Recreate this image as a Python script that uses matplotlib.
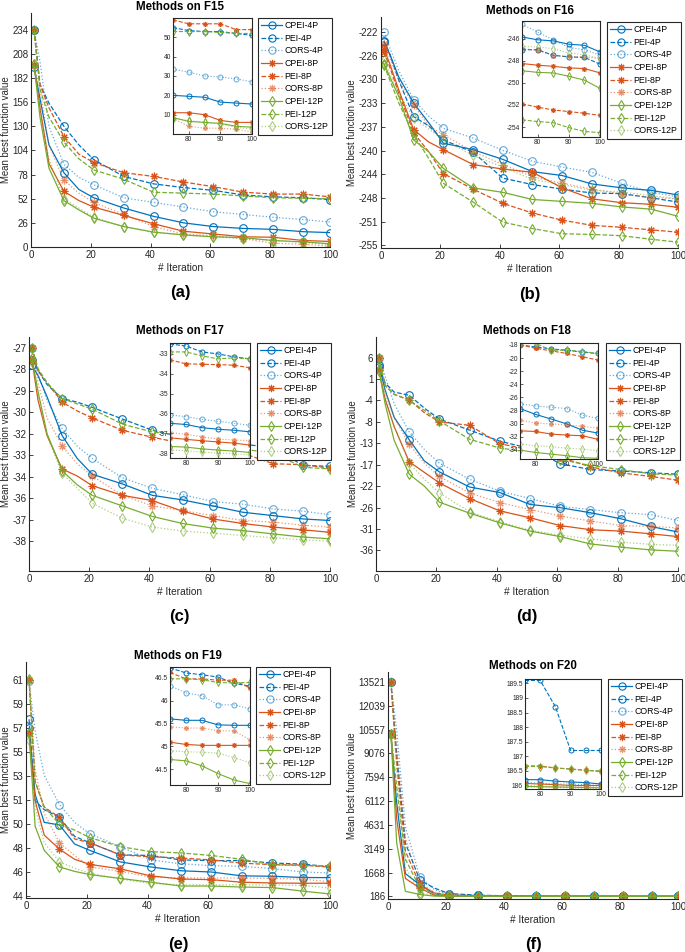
import matplotlib
matplotlib.use("Agg")
from matplotlib import pyplot as plt
from matplotlib.lines import Line2D
import numpy as np

plt.rcParams['font.family'] = ['Liberation Sans', 'DejaVu Sans']

# iterations (markers every 10 iterations)
iters = [1, 3, 6, 11, 16, 21, 31, 41, 51, 61, 71, 81, 91, 100]
zoom_iters = [75, 80, 85, 90, 95, 100]
labels = ['CPEI-4P', 'PEI-4P', 'CORS-4P', 'CPEI-8P', 'PEI-8P', 'CORS-8P',
          'CPEI-12P', 'PEI-12P', 'CORS-12P']

# ---- F15 ----
f15 = [
    [194, 160, 110, 80, 62, 53, 42, 33, 26, 22, 20, 19, 16.5, 15.5],
    [234, 175, 155, 130, 110, 94, 76, 68, 64, 61, 56, 54, 53, 51],
    [234, 200, 130, 89, 75, 67, 53, 48, 43, 38, 35, 32, 29.5, 27],
    [196, 150, 90, 60, 50, 43, 34, 25, 17, 14, 11, 10.5, 7, 6],
    [234, 175, 150, 119, 100, 91, 80, 76, 70, 65, 59, 57, 57, 54],
    [196, 170, 110, 72, 58, 48, 35, 22, 14, 12, 9, 4, 3, 1],
    [197, 140, 85, 50, 40, 31, 22, 16, 13, 11, 10, 7, 5.5, 3.5],
    [234, 170, 140, 113, 95, 83, 73, 59, 58, 57, 55, 53, 52.5, 52],
    [197, 150, 95, 52, 42, 32, 22, 16, 13, 11, 9, 7, 5, 2.5],
]
f15_zoom = [
    [20, 19.5, 19, 16.5, 16, 15.5],
    [55, 53.5, 53, 53, 52, 51],
    [33.5, 32, 30, 29.5, 28.5, 27],
    [11, 11, 10, 7, 6, 6],
    [59, 57, 57, 57, 54, 54],
    [8, 4, 3, 3, 2.5, 1],
    [8.5, 6.5, 6, 5.5, 4, 3.5],
    [53, 53, 53, 52.5, 52, 52],
    [8, 7, 6, 5, 3.5, 2.5],
]
f15_yticks = ['234', '208', '182', '156', '130', '104', '78', '52', '26', '0']

# ---- F16 ----
f16 = [
    [-223.5, -225.5, -229, -233, -236, -239.2, -240.2, -241.7, -243.6, -244.2, -245.5, -246.1, -246.5, -247.2],
    [-223.4, -225.5, -229.5, -235.1, -236.5, -238.7, -240.6, -244.6, -245.6, -246.3, -246.9, -247.0, -247.65, -248.3],
    [-222, -224.5, -228, -232.5, -235, -236.9, -238.4, -240.3, -242.0, -242.9, -243.7, -245.4, -246.8, -247.5],
    [-224.6, -227, -231, -237.1, -239, -240.2, -242.5, -243.2, -243.7, -246.1, -247.8, -248.4, -248.65, -249.1],
    [-225.1, -227.5, -231.5, -237.6, -240.5, -243.9, -246.3, -248.5, -250.0, -251.1, -251.9, -252.2, -252.6, -252.95],
    [-223.8, -226, -229.5, -233.3, -236.5, -237.9, -240.5, -242.5, -244.4, -245.4, -246.3, -247.05, -247.6, -247.8],
    [-226.9, -229, -232, -238.7, -240.5, -243.1, -246.1, -246.8, -247.9, -248.2, -248.5, -249.05, -249.4, -250.5],
    [-227.1, -229.5, -233, -237.9, -241.5, -245.4, -248.3, -251.4, -252.4, -253.2, -253.3, -253.5, -254.05, -254.5],
    [-226.4, -228.5, -231.5, -235.3, -237, -238.7, -241.1, -242.9, -244.8, -245.6, -246.5, -246.75, -247.3, -247.8],
]
f16_zoom = [
    [-245.85, -246.1, -246.2, -246.5, -246.6, -247.2],
    [-247.0, -247.0, -247.5, -247.65, -247.7, -248.3],
    [-244.7, -245.4, -246.1, -246.8, -247.0, -247.5],
    [-248.25, -248.4, -248.5, -248.65, -248.7, -249.1],
    [-251.9, -252.2, -252.45, -252.6, -252.75, -252.95],
    [-246.9, -247.05, -247.55, -247.6, -247.65, -247.8],
    [-248.9, -249.05, -249.1, -249.4, -249.75, -250.5],
    [-253.35, -253.5, -253.6, -254.05, -254.4, -254.5],
    [-246.7, -246.75, -246.9, -247.3, -247.45, -247.8],
]
f16_yticks = ['-222', '-226', '-230', '-233', '-237', '-240', '-244', '-248', '-251', '-255']

# ---- F17 ----
f17 = [
    [-28.0, -28.6, -29.8, -32.0, -33.3, -34.2, -34.75, -35.4, -35.66, -36.0, -36.36, -36.55, -36.74, -36.83],
    [-27.7, -28.3, -29.1, -29.9, -30.1, -30.4, -31.06, -31.7, -32.1, -32.3, -32.5, -32.67, -33.7, -33.75],
    [-27.0, -28.5, -30.0, -31.6, -32.6, -33.3, -34.4, -35.0, -35.36, -35.75, -35.9, -36.17, -36.3, -36.5],
    [-27.7, -30.0, -32.0, -33.9, -34.3, -34.85, -35.4, -35.7, -36.3, -36.74, -37.0, -37.2, -37.36, -37.5],
    [-27.0, -28.3, -29.0, -30.1, -30.6, -31.0, -31.7, -32.1, -32.44, -32.67, -33.0, -33.6, -33.66, -33.85],
    [-27.0, -29.0, -31.0, -32.6, -33.6, -34.3, -35.4, -36.0, -36.26, -36.55, -36.83, -36.92, -37.1, -37.2],
    [-27.6, -29.5, -31.9, -34.0, -34.8, -35.4, -36.0, -36.6, -37.0, -37.26, -37.4, -37.59, -37.77, -37.87],
    [-27.0, -28.2, -29.0, -29.9, -30.2, -30.5, -31.35, -31.8, -32.0, -32.4, -32.77, -33.0, -33.8, -33.9],
    [-27.8, -29.8, -32.0, -34.15, -35.0, -35.85, -36.7, -37.2, -37.43, -37.55, -37.68, -37.81, -37.93, -38.0],
]
f17_zoom = [
    [-36.5, -36.56, -36.72, -36.8, -36.85, -36.93],
    [-32.5, -32.6, -32.9, -33.0, -33.15, -33.25],
    [-36.08, -36.16, -36.3, -36.4, -36.5, -36.6],
    [-37.23, -37.31, -37.38, -37.44, -37.5, -37.6],
    [-33.3, -33.5, -33.52, -33.54, -33.57, -33.7],
    [-36.97, -37.05, -37.18, -37.3, -37.34, -37.38],
    [-37.67, -37.7, -37.79, -37.85, -37.9, -37.97],
    [-32.9, -32.9, -33.1, -33.25, -33.2, -33.25],
    [-37.84, -37.89, -37.95, -38.0, -38.03, -38.1],
]
f17_yticks = ['-27', '-28', '-29', '-30', '-32', '-33', '-34', '-36', '-37', '-38']

# ---- F18 ----
f18 = [
    [4.3, -1, -7, -11.9, -16.5, -18.9, -22.2, -23.4, -26.0, -26.7, -27.8, -29.1, -30.8, -32.0],
    [4.0, 0.5, -1.5, -2.2, -5, -7.4, -9.8, -12.2, -13.8, -17.1, -18.4, -18.7, -19.1, -19.4],
    [6, 2, -4, -10.2, -14, -17.0, -20.5, -23.1, -24.7, -26.4, -27.1, -27.8, -28.2, -29.5],
    [3.2, -3, -9, -16.7, -19, -21.3, -24.7, -27.4, -28.9, -30.6, -31.5, -31.8, -32.4, -33.0],
    [6, 0, -2, -3.2, -6, -8.0, -8.75, -12.75, -14.1, -15.7, -17.8, -19.1, -19.9, -20.7],
    [6, -1, -7, -12.9, -17, -19.9, -23.5, -25.6, -27.1, -28.5, -29.6, -30.6, -30.8, -31.1],
    [3.1, -4, -12, -19.4, -22, -25.5, -27.9, -30.0, -31.8, -33.0, -34.6, -35.3, -35.9, -36.2],
    [6, 0, -2, -3.3, -5.5, -7.8, -11.8, -13.7, -14.6, -16.2, -17.5, -18.4, -19.3, -19.6],
    [3.6, -2, -9, -17.0, -20.5, -23.5, -27.6, -29.8, -31.6, -32.7, -33.5, -34.2, -34.7, -34.9],
]
f18_zoom = [
    [-27.7, -28.6, -29.3, -30.05, -31.0, -31.45],
    [-18.0, -18.3, -18.6, -18.8, -19.1, -19.3],
    [-27.0, -27.3, -27.5, -27.7, -28.7, -29.2],
    [-31.1, -31.2, -31.6, -31.75, -31.85, -32.4],
    [-18.0, -18.5, -18.9, -19.3, -19.8, -20.3],
    [-29.5, -29.9, -30.05, -30.2, -30.4, -30.7],
    [-34.05, -34.4, -34.65, -34.9, -35.2, -35.3],
    [-17.75, -17.75, -18.8, -18.8, -19.0, -19.3],
    [-33.1, -33.4, -33.5, -33.75, -33.9, -34.15],
]
f18_yticks = ['6', '1', '-4', '-8', '-13', '-17', '-22', '-26', '-31', '-36']

# ---- F19 ----
f19 = [
    [57.2, 52, 49.8, 49.6, 48.1, 47.6, 46.7, 46.3, 46.0, 45.9, 45.6, 45.57, 45.47, 45.46],
    [57.9, 51.5, 50.8, 50.2, 48.7, 48.2, 47.25, 47.2, 46.85, 46.8, 46.8, 46.61, 46.52, 46.32],
    [60.9, 57, 53.5, 51.2, 49.8, 48.9, 47.9, 46.85, 46.55, 46.4, 46.35, 46.17, 45.91, 45.82],
    [56.8, 51.5, 48.8, 47.7, 46.9, 46.5, 46.15, 45.6, 45.35, 45.3, 45.1, 45.04, 45.02, 45.02],
    [61, 53, 51, 50.2, 48.5, 48.2, 47.25, 47.1, 47.0, 46.85, 46.6, 46.48, 46.45, 46.28],
    [61, 54, 50.5, 48.2, 47.2, 46.3, 45.95, 45.5, 45.45, 45.43, 45.43, 45.4, 45.34, 45.14],
    [56.8, 49.5, 47.6, 46.3, 45.95, 45.7, 45.4, 45.1, 44.8, 44.8, 44.72, 44.68, 44.4, 44.18],
    [61.1, 53, 51, 49.65, 49.2, 48.6, 47.9, 47.5, 47.4, 47.2, 46.9, 46.48, 46.4, 46.4],
    [56.3, 51, 48.2, 46.7, 46.2, 45.8, 45.35, 45.0, 44.9, 44.9, 44.9, 44.88, 44.85, 44.64],
]
f19_zoom = [
    [45.6, 45.57, 45.57, 45.47, 45.46, 45.46],
    [46.72, 46.61, 46.57, 46.52, 46.38, 46.32],
    [46.33, 46.17, 46.11, 45.91, 45.91, 45.82],
    [45.09, 45.04, 45.02, 45.02, 45.02, 45.02],
    [46.62, 46.48, 46.48, 46.45, 46.45, 46.28],
    [45.43, 45.4, 45.4, 45.34, 45.34, 45.14],
    [44.71, 44.68, 44.57, 44.4, 44.26, 44.18],
    [46.48, 46.48, 46.46, 46.4, 46.39, 46.4],
    [44.9, 44.88, 44.87, 44.85, 44.75, 44.64],
]
f19_yticks = ['61', '59', '57', '55', '53', '51', '50', '48', '46', '44']

# ---- F20 ----
f20 = [
    [10300, 6000, 1600, 900, 350, 230, 200, 192, 190, 189, 188, 186.2, 186.1, 186.05],
    [13521, 9000, 3500, 1180, 700, 360, 260, 220, 200, 195, 190, 189.6, 187.2, 187.2],
    [13521, 10500, 4500, 1400, 600, 300, 240, 205, 195, 190, 188, 186.1, 186.05, 186.0],
    [10300, 5000, 1300, 700, 250, 200, 190, 188, 187, 186.5, 186.3, 186.05, 186.0, 186.0],
    [13521, 8500, 3000, 900, 400, 260, 220, 200, 192, 189, 188, 186.65, 186.57, 186.5],
    [13521, 9500, 3800, 1000, 450, 300, 230, 205, 195, 190, 188, 186.0, 185.95, 185.95],
    [10300, 3500, 500, 300, 200, 195, 190, 188, 187, 186.5, 186.2, 185.95, 185.95, 185.9],
    [10300, 7000, 2500, 700, 350, 240, 210, 195, 190, 188, 187, 186.65, 186.57, 186.5],
    [13521, 8000, 2000, 400, 250, 210, 200, 192, 189, 188, 187, 185.95, 185.9, 185.9],
]
f20_zoom = [
    [186.2, 186.2, 186.15, 186.12, 186.1, 186.05],
    [189.6, 189.6, 188.7, 187.2, 187.2, 187.2],
    [186.1, 186.08, 186.05, 186.05, 186.03, 186.0],
    [186.07, 186.05, 186.03, 186.0, 186.0, 186.0],
    [186.67, 186.67, 186.6, 186.56, 186.52, 186.48],
    [186.0, 185.98, 185.96, 185.95, 185.95, 185.95],
    [185.97, 185.96, 185.95, 185.94, 185.93, 185.92],
    [186.65, 186.65, 186.6, 186.57, 186.52, 186.5],
    [185.95, 185.94, 185.93, 185.92, 185.9, 185.9],
]
f20_yticks = ['13521', '12039', '10557', '9076', '7594', '6112', '4631', '3149', '1668', '186']

# ---- style ----
blue, red, green = '#0072BD', '#D95319', '#77AC30'
colors = [blue] * 3 + [red] * 3 + [green] * 3
lstyles = ['-', '--', ':'] * 3
markers = ['o'] * 3 + [(8, 2, 0)] * 3 + ['d'] * 3
alphas = [1, 1, 0.6] * 3
dark = '#262626'

W, H = 685, 952
fig = plt.figure(figsize=(W / 100, H / 100), dpi=100)


def px(x0, y0, x1, y1):
    return [x0 / W, 1 - y1 / H, (x1 - x0) / W, (y1 - y0) / H]


# title, main data, zoom data, y tick labels, main ylim, zoom ylim, zoom yticks,
# axes box, inset box, legend corner, panel letter
panels = [
    ('Methods on F15', f15, f15_zoom, f15_yticks, (0, 252), (0, 60), [10, 20, 30, 40, 50],
     (31, 13, 330, 247), (173, 18, 252, 134), (258, 18), '(a)'),
    ('Methods on F16', f16, f16_zoom, f16_yticks, (-255.4, -219.7), (-254.9, -244.4),
     [-254, -252, -250, -248, -246],
     (381, 17, 678, 248), (522, 21, 600, 137), (607, 22), '(b)'),
    ('Methods on F17', f17, f17_zoom, f17_yticks, (-39.7, -26.4), (-38.25, -32.45),
     [-38, -37, -36, -35, -34, -33],
     (29, 337, 330, 571), (170, 343, 250, 458), (257, 343), '(c)'),
    ('Methods on F18', f18, f18_zoom, f18_yticks, (-40.5, 10.5), (-35.4, -17.7),
     [-34, -32, -30, -28, -26, -24, -22, -20, -18],
     (376, 337, 678, 571), (520, 343, 598, 459), (606, 343), '(d)'),
    ('Methods on F19', f19, f19_zoom, f19_yticks, (43.86, 62.4), (44.15, 46.74),
     [44.5, 45, 45.5, 46, 46.5],
     (26, 662, 330, 898), (170, 667, 250, 785), (256, 667), '(e)'),
    ('Methods on F20', f20, f20_zoom, f20_yticks, (21, 14141), (185.88, 189.65),
     [186, 186.5, 187, 187.5, 188, 188.5, 189, 189.5],
     (388, 672, 678, 899), (525, 679, 601, 789), (608, 679), '(f)'),
]

mark_idx = [0, 3, 5, 6, 7, 8, 9, 10, 11, 12, 13]

for title, data, zdata, yt, ylim, zylim, zyt, abox, ibox, lpos, letter in panels:
    ax = fig.add_axes(px(*abox))
    for k in range(9):
        ax.plot(iters, data[k], color=colors[k], ls=lstyles[k], lw=0.9,
                marker=markers[k], markevery=mark_idx, ms=5.5, mfc='none',
                mew=0.8, alpha=alphas[k])
    ax.set_xlim(0, 100)
    ax.set_ylim(*ylim)
    ax.set_xticks([0, 20, 40, 60, 80, 100])
    ax.set_yticks(np.linspace(float(yt[0]), float(yt[-1]), len(yt)))
    ax.set_yticklabels(yt)
    for s in ['top', 'right']:
        ax.spines[s].set_visible(False)
    for s in ['left', 'bottom']:
        ax.spines[s].set_color(dark)
        ax.spines[s].set_linewidth(0.8)
    ax.tick_params(direction='in', length=3, width=0.6, labelsize=7,
                   colors=dark, pad=2)
    ax.set_xlabel('# Iteration', fontsize=7.3, color=dark, labelpad=2)
    ax.set_ylabel('Mean best function value', fontsize=6.9, color=dark, labelpad=1)

    cx = (abox[0] + abox[2]) / 2
    fig.text(cx / W, 1 - (abox[1] - 6) / H, title, ha='center', va='center',
             fontsize=8.3, fontweight='bold')
    fig.text(cx / W, 1 - (abox[3] + 46) / H, letter, ha='center', va='center',
             fontsize=12, fontweight='bold')

    handles = [Line2D([], [], color=colors[k], ls=lstyles[k], lw=0.9,
                      marker=markers[k], ms=5.2, mfc='none', mew=0.8,
                      alpha=alphas[k]) for k in range(9)]
    leg = ax.legend(handles, labels, loc='upper left',
                    bbox_to_anchor=(lpos[0] / W, 1 - lpos[1] / H),
                    bbox_transform=fig.transFigure, borderaxespad=0,
                    fontsize=6.3, labelspacing=0.42, handlelength=2.4,
                    handletextpad=0.3, borderpad=0.35, fancybox=False,
                    framealpha=1, edgecolor=dark)
    leg.get_frame().set_linewidth(0.8)

    ins = fig.add_axes(px(*ibox))
    for k in range(9):
        ins.plot(zoom_iters, zdata[k], color=colors[k], ls=lstyles[k], lw=0.8,
                 marker=markers[k], ms=3.6, mfc='none', mew=0.7, alpha=alphas[k])
    ins.set_xlim(75, 100)
    ins.set_ylim(*zylim)
    ins.set_xticks([80, 90, 100])
    ins.set_yticks(zyt)
    ins.set_yticklabels([('%g' % v) for v in zyt])
    for s in ins.spines.values():
        s.set_color(dark)
        s.set_linewidth(0.8)
    ins.tick_params(direction='in', length=2, width=0.5, labelsize=4.8,
                    colors=dark, pad=1.5)

plt.savefig('out.png', dpi=100)
